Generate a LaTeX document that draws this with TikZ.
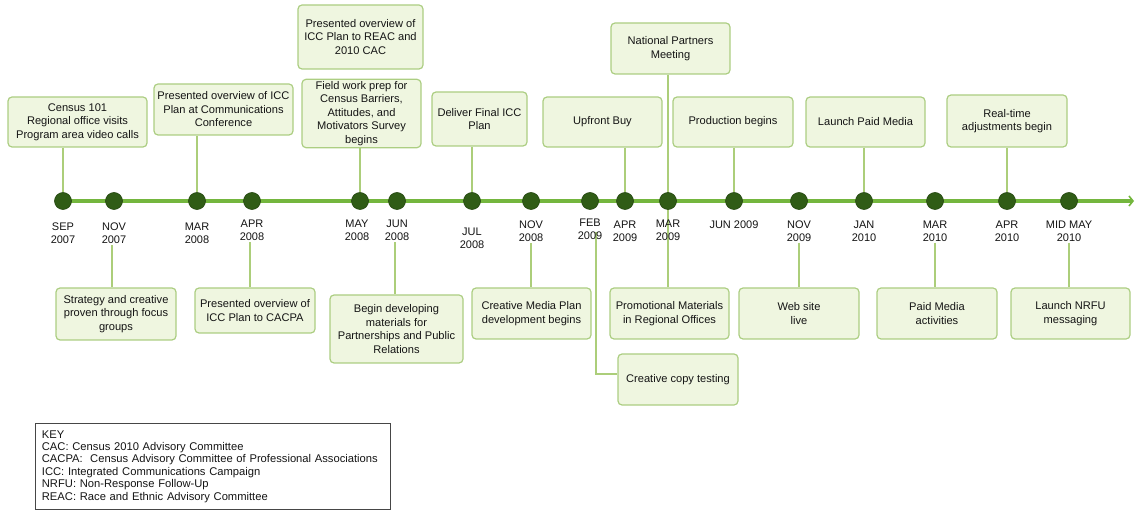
\documentclass[tikz,border=0pt]{standalone}
\usepackage{fontspec}
\setmainfont{Liberation Sans}
\usetikzlibrary{arrows.meta,backgrounds,calc}
\definecolor{tlgreen}{RGB}{116,182,62}
\definecolor{dotgreen}{RGB}{48,92,22}
\definecolor{dotdark}{RGB}{36,70,16}
\definecolor{boxfill}{RGB}{239,246,224}
\definecolor{boxborder}{RGB}{172,206,130}
\definecolor{conngreen}{RGB}{172,206,122}
\definecolor{txt}{RGB}{20,20,20}
\definecolor{keyborder}{RGB}{70,70,70}
\newcommand\boxfont{\fontsize{11.1}{13.5}\selectfont}
\newcommand\datefont{\fontsize{11}{13}\selectfont}
\newcommand\keyfont{\fontsize{11.2}{12.4}\selectfont}
\begin{document}
\begin{tikzpicture}[x=1pt,y=-1pt,
  evbox/.style={draw=boxborder, fill=boxfill, rounded corners=4pt, line width=1.2pt, align=center, inner sep=2pt, font=\boxfont, text=txt},
  tdot/.style={circle, fill=dotgreen, draw=dotdark, line width=0.6pt, minimum size=17pt, inner sep=0pt},
  datelbl/.style={align=center, font=\datefont, inner sep=1pt, text=txt},
  conn/.style={draw=conngreen, line width=1.4pt},
  tline/.style={draw=tlgreen, line width=4pt, -{Straight Barb[length=4pt,width=10pt,line width=1.6pt]}},
  keybox/.style={draw=keyborder, line width=0.8pt, align=left, font=\keyfont, text=txt, inner xsep=6.5pt, inner ysep=0pt, text width=342pt, minimum height=86pt}
]
\useasboundingbox (0,0) rectangle (1135,510);

% timeline
\coordinate (tlstart) at (55,201);
\coordinate (tlend) at (1134,201);

% dots
\node[tdot] (dsep07) at (63,201) {};
\node[tdot] (dnov07) at (114,201) {};
\node[tdot] (dmar08) at (197,201) {};
\node[tdot] (dapr08) at (252,201) {};
\node[tdot] (dmay08) at (360,201) {};
\node[tdot] (djun08) at (397,201) {};
\node[tdot] (djul08) at (472,201) {};
\node[tdot] (dnov08) at (531,201) {};
\node[tdot] (dfeb09) at (590,201) {};
\node[tdot] (dapr09) at (625,201) {};
\node[tdot] (dmar09) at (668,201) {};
\node[tdot] (djun09) at (734,201) {};
\node[tdot] (dnov09) at (799,201) {};
\node[tdot] (djan10) at (864,201) {};
\node[tdot] (dmar10) at (935,201) {};
\node[tdot] (dapr10) at (1007,201) {};
\node[tdot] (dmay10) at (1069,201) {};

% date labels
\node[datelbl] (lsep07) at (63,233.5) {SEP\\2007};
\node[datelbl] (lnov07) at (114,233.5) {NOV\\2007};
\node[datelbl] (lmar08) at (197,233.5) {MAR\\2008};
\node[datelbl] (lapr08) at (252,230.5) {APR\\2008};
\node[datelbl] (lmay08) at (357,230.5) {MAY\\2008};
\node[datelbl] (ljun08) at (397,230.5) {JUN\\2008};
\node[datelbl] (ljul08) at (472,238) {JUL\\2008};
\node[datelbl] (lnov08) at (531,231.5) {NOV\\2008};
\node[datelbl] (lfeb09) at (590,229.5) {FEB\\2009};
\node[datelbl] (lapr09) at (625,231) {APR\\2009};
\node[datelbl] (lmar09) at (668,230) {MAR\\2009};
\node[datelbl] (ljun09) at (734,225) {JUN 2009};
\node[datelbl] (lnov09) at (799,231) {NOV\\2009};
\node[datelbl] (ljan10) at (864,231) {JAN\\2010};
\node[datelbl] (lmar10) at (935,231) {MAR\\2010};
\node[datelbl] (lapr10) at (1007,231) {APR\\2010};
\node[datelbl] (lmay10) at (1069,231) {MID MAY\\2010};

% boxes above
\node[evbox, minimum width=139pt, minimum height=50pt] (census) at (77.5,122) {Census 101\\Regional office visits\\Program area video calls};
\node[evbox, minimum width=139pt, minimum height=51pt] (confpres) at (223.5,109.5) {Presented overview of ICC\\Plan at Communications\\Conference};
\node[evbox, minimum width=125pt, minimum height=64pt] (reac) at (360.5,37) {Presented overview of\\ICC Plan to REAC and\\2010 CAC};
\node[evbox, minimum width=119pt, minimum height=67pt] (field) at (361.5,113.5) {Field work prep for\\Census Barriers,\\Attitudes, and\\Motivators Survey\\begins};
\node[evbox, minimum width=95pt, minimum height=54pt] (deliver) at (479.5,119) {Deliver Final ICC\\Plan};
\node[evbox, minimum width=119pt, minimum height=50pt] (upfront) at (602.5,122) {Upfront Buy};
\node[evbox, minimum width=119pt, minimum height=51pt] (natl) at (670.5,48.5) {National Partners\\Meeting};
\node[evbox, minimum width=120pt, minimum height=50pt] (prod) at (733,122) {Production begins};
\node[evbox, minimum width=119pt, minimum height=50pt] (launchpaid) at (865.5,122) {Launch Paid Media};
\node[evbox, minimum width=120pt, minimum height=52pt] (realtime) at (1007,121) {Real-time\\adjustments begin};

% boxes below
\node[evbox, minimum width=120pt, minimum height=52pt] (strategy) at (116,314) {Strategy and creative\\proven through focus\\groups};
\node[evbox, minimum width=120pt, minimum height=45pt] (cacpa) at (255,310.5) {Presented overview of\\ICC Plan to CACPA};
\node[evbox, minimum width=133pt, minimum height=68pt] (begindev) at (396.5,329) {Begin developing\\materials for\\Partnerships and Public\\Relations};
\node[evbox, minimum width=119pt, minimum height=51pt] (cmp) at (531.5,313.5) {Creative Media Plan\\development begins};
\node[evbox, minimum width=120pt, minimum height=51pt] (copytest) at (678,379.5) {Creative copy testing};
\node[evbox, minimum width=119pt, minimum height=51pt] (promo) at (669.5,313.5) {Promotional Materials\\in Regional Offices};
\node[evbox, minimum width=120pt, minimum height=51pt] (web) at (799,313.5) {Web site\\live};
\node[evbox, minimum width=120pt, minimum height=51pt] (paidact) at (937,313.5) {Paid Media\\activities};
\node[evbox, minimum width=119pt, minimum height=51pt] (nrfu) at (1070.5,313.5) {Launch NRFU\\messaging};

\coordinate (febtop) at (596,232);

% key
\node[keybox, anchor=north west] (key) at (35,423) {KEY\\CAC: Census 2010 Advisory Committee\\CACPA:~ Census Advisory Committee of Professional Associations\\ICC: Integrated Communications Campaign\\NRFU: Non-Response Follow-Up\\REAC: Race and Ethnic Advisory Committee};

\begin{scope}[on background layer]
  % connectors above
  \draw[conn] (census.south -| dsep07) -- (dsep07);
  \draw[conn] (confpres.south -| dmar08) -- (dmar08);
  \draw[conn] (field.south -| dmay08) -- (dmay08);
  \draw[conn] (deliver.south -| djul08) -- (djul08);
  \draw[conn] (upfront.south -| dapr09) -- (dapr09);
  \draw[conn] (natl.south -| dmar09) -- (promo.north -| dmar09);
  \draw[conn] (prod.south -| djun09) -- (djun09);
  \draw[conn] (launchpaid.south -| djan10) -- (djan10);
  \draw[conn] (realtime.south -| dapr10) -- (dapr10);
  % connectors below
  \draw[conn] ([xshift=-2pt]lnov07.south) -- ([xshift=-2pt]lnov07.south |- strategy.north);
  \draw[conn] ([xshift=-2pt]lapr08.south) -- ([xshift=-2pt]lapr08.south |- cacpa.north);
  \draw[conn] ([xshift=-2pt]ljun08.south) -- ([xshift=-2pt]ljun08.south |- begindev.north);
  \draw[conn] (lnov08.south) -- (lnov08.south |- cmp.north);
  \draw[conn] (febtop) |- ([yshift=5.5pt]copytest.west);
  \draw[conn] (lnov09.south) -- (lnov09.south |- web.north);
  \draw[conn] (lmar10.south) -- (lmar10.south |- paidact.north);
  \draw[conn] (lmay10.south) -- (lmay10.south |- nrfu.north);
  % timeline
  \draw[tline] (tlstart) -- (tlend);
\end{scope}
\end{tikzpicture}
\end{document}
